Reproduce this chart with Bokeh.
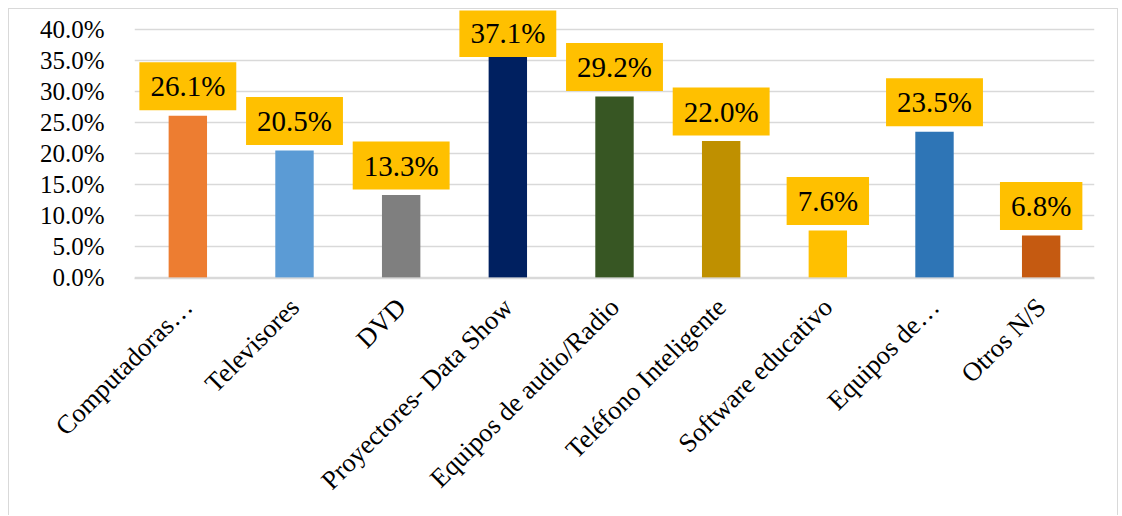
import math
from bokeh.plotting import figure
from bokeh.models import ColumnDataSource, FactorRange, Range1d, NumeralTickFormatter, FixedTicker
from bokeh.core.properties import value
from bokeh.embed import file_html
from bokeh.resources import INLINE

categories = ["Computadoras…", "Televisores", "DVD", "Proyectores- Data Show",
              "Equipos de audio/Radio", "Teléfono Inteligente", "Software educativo",
              "Equipos de…", "Otros N/S"]
values = [0.261, 0.205, 0.133, 0.371, 0.292, 0.220, 0.076, 0.235, 0.068]
colors = ["#ED7D31", "#5B9BD5", "#7F7F7F", "#002060", "#375623",
          "#BF9000", "#FFC000", "#2E75B6", "#C55A11"]
y_ticks = [0.0, 0.05, 0.10, 0.15, 0.20, 0.25, 0.30, 0.35, 0.40]

SERIF = "Liberation Serif"
Y_START, Y_END = -0.0015, 0.4306
PX_PER_UNIT = 620.0
LABEL_CAP = Y_END - 52 / PX_PER_UNIT      # keep value boxes inside the chart area

labels = [f"{v * 100:.1f}%" for v in values]
label_y = [min(v, LABEL_CAP) for v in values]
src = ColumnDataSource(dict(cat=categories, val=values, color=colors, lbl=labels, ly=label_y))

p = figure(width=1110, height=507, x_range=FactorRange(*categories, range_padding=0),
           y_range=Range1d(Y_START, Y_END), output_backend="svg", toolbar_location=None,
           min_border_left=125, min_border_right=25, min_border_top=1, min_border_bottom=238)
p.styles = {"border-left": "1px solid #d9d9d9", "border-top": "1px solid #d9d9d9",
            "border-right": "1px solid #d9d9d9", "margin-left": "8px", "margin-top": "8px"}
p.outline_line_color = None
p.background_fill_color = "white"
p.border_fill_color = "white"

p.vbar(x="cat", top="val", width=0.36, color="color", source=src, line_color=None)

p.text(x="cat", y="ly", text="lbl", source=src, anchor="center", y_offset=-29.5,
       text_font=value(SERIF), text_font_size="29px", text_color="black",
       background_fill_color="#FFC000", padding=(11, 11, 8, 8))

p.xgrid.grid_line_color = None
p.ygrid.grid_line_color = "#d9d9d9"
p.ygrid.grid_line_width = 1.5
p.yaxis.ticker = FixedTicker(ticks=y_ticks)
p.yaxis.formatter = NumeralTickFormatter(format="0.0%")
p.yaxis.axis_line_color = None
p.yaxis.major_tick_line_color = None
p.yaxis.minor_tick_line_color = None
p.yaxis.major_label_standoff = 24
p.yaxis.major_label_text_font = SERIF
p.yaxis.major_label_text_font_size = "25px"
p.yaxis.major_label_text_color = "black"

p.xaxis.axis_line_color = "#d9d9d9"
p.xaxis.axis_line_width = 1.5
p.xaxis.major_tick_line_color = None
p.xaxis.major_label_orientation = math.pi / 4
p.xaxis.major_label_standoff = 18
p.xaxis.major_label_text_font = SERIF
p.xaxis.major_label_text_font_size = "26.5px"
p.xaxis.major_label_text_color = "black"

open("out.html", "w").write(file_html(p, INLINE))
